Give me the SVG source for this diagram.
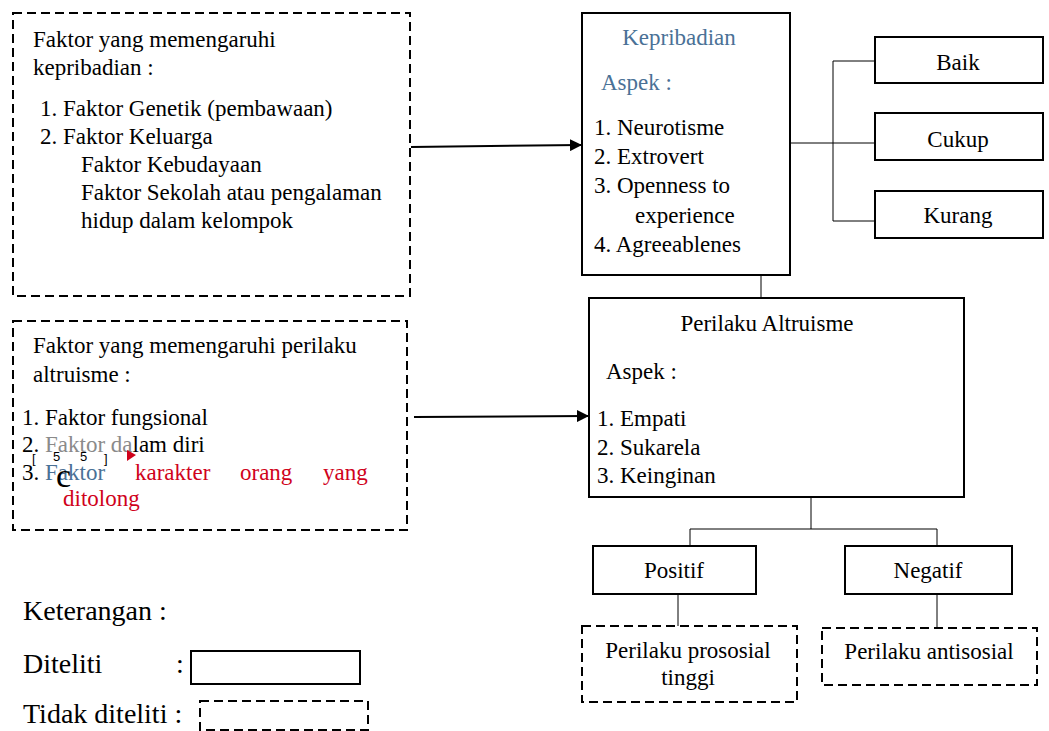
<svg xmlns="http://www.w3.org/2000/svg" width="1049" height="731" viewBox="0 0 1049 731">
<defs>
<style>
text{font-family:"Liberation Serif","Times New Roman",serif;font-size:23px;fill:#000}
.solid{fill:#fff;stroke:#000;stroke-width:2}
.dash{fill:#fff;stroke:#000;stroke-width:2;stroke-dasharray:9,5}
.ln{fill:none;stroke:#000;stroke-width:1}
.arr{fill:none;stroke:#000;stroke-width:2}
.blue{fill:#4a7196}
.red{fill:#d0021b}
.c{text-anchor:middle}
.big{font-size:28px}
.sm{font-family:"Liberation Sans",Arial,sans-serif;font-size:13px}
</style>
<marker id="ah" markerWidth="12" markerHeight="12" refX="11" refY="6" orient="auto" markerUnits="userSpaceOnUse">
<path d="M0,0 L12,6 L0,12 z" fill="#000"/>
</marker>
</defs>
<rect width="1049" height="731" fill="#fff"/>

<g id="connectors">
<line class="arr" x1="411" y1="147" x2="581" y2="145" marker-end="url(#ah)"/>
<line class="arr" x1="414" y1="417" x2="588" y2="416" marker-end="url(#ah)"/>
<line class="ln" x1="790" y1="143" x2="875" y2="143"/>
<polyline class="ln" points="875,61 833,61 833,221 875,221"/>
<line class="ln" x1="761" y1="275" x2="761" y2="298"/>
<line class="ln" x1="811" y1="498" x2="811" y2="529"/>
<polyline class="ln" points="690,546 690,529 937,529 937,546"/>
<line class="ln" x1="678" y1="595" x2="678" y2="626"/>
<line class="ln" x1="937" y1="595" x2="937" y2="628"/>
</g>

<g id="faktor-kepribadian">
<rect class="dash" x="13" y="13" width="397" height="283"/>
<text x="33" y="47">Faktor yang memengaruhi</text>
<text x="33" y="75">kepribadian :</text>
<text x="40" y="116">1. Faktor Genetik (pembawaan)</text>
<text x="40" y="144">2. Faktor Keluarga</text>
<text x="81" y="172">Faktor Kebudayaan</text>
<text x="81" y="200">Faktor Sekolah atau pengalaman</text>
<text x="81" y="228">hidup dalam kelompok</text>
</g>

<g id="faktor-altruisme">
<rect class="dash" x="13" y="321" width="394" height="209"/>
<text x="33" y="353">Faktor yang memengaruhi perilaku</text>
<text x="33" y="382">altruisme :</text>
<text x="22" y="425">1. Faktor fungsional</text>
<text x="22" y="452">2. <tspan fill="#8a8a8a">Faktor da</tspan>lam diri</text>
<text x="32" y="463" class="sm">[</text>
<text x="53" y="461" class="sm">5</text>
<text x="80" y="461" class="sm">5</text>
<text x="104" y="463" class="sm">]</text>
<path d="M127,450 L136,455 L127,461 z" fill="#d0021b"/>
<text x="22" y="480">3. <tspan class="blue">Faktor</tspan></text>
<text x="135" y="480" class="red">karakter</text>
<text x="240" y="480" class="red">orang</text>
<text x="323" y="480" class="red">yang</text>
<text x="63" y="506" class="red">ditolong</text>
<text x="56" y="487" style="font-size:34px">c</text>
</g>

<g id="kepribadian">
<rect class="solid" x="582" y="13" width="208" height="262"/>
<text x="679" y="45" class="c blue">Kepribadian</text>
<text x="601" y="90" class="blue">Aspek :</text>
<text x="594" y="135">1. Neurotisme</text>
<text x="594" y="164">2. Extrovert</text>
<text x="594" y="193">3. Openness to</text>
<text x="635" y="223">experience</text>
<text x="594" y="252">4. Agreeablenes</text>
</g>

<g id="baik">
<rect class="solid" x="875" y="37" width="168" height="46"/>
<text x="958" y="70" class="c">Baik</text>
</g>
<g id="cukup">
<rect class="solid" x="875" y="113" width="168" height="47"/>
<text x="958" y="147" class="c">Cukup</text>
</g>
<g id="kurang">
<rect class="solid" x="875" y="191" width="168" height="47"/>
<text x="958" y="223" class="c">Kurang</text>
</g>

<g id="perilaku-altruisme">
<rect class="solid" x="589" y="298" width="375" height="199"/>
<text x="767" y="331" class="c">Perilaku Altruisme</text>
<text x="606" y="379">Aspek :</text>
<text x="597" y="426">1. Empati</text>
<text x="597" y="455">2. Sukarela</text>
<text x="597" y="483">3. Keinginan</text>
</g>

<g id="positif">
<rect class="solid" x="593" y="546" width="163" height="48"/>
<text x="674" y="578" class="c">Positif</text>
</g>
<g id="negatif">
<rect class="solid" x="845" y="546" width="167" height="48"/>
<text x="928" y="578" class="c">Negatif</text>
</g>

<g id="prososial">
<rect class="dash" x="582" y="626" width="215" height="76"/>
<text x="688" y="658" class="c">Perilaku prososial</text>
<text x="688" y="685" class="c">tinggi</text>
</g>
<g id="antisosial">
<rect class="dash" x="822" y="628" width="215" height="57"/>
<text x="929" y="659" class="c">Perilaku antisosial</text>
</g>

<g id="legend">
<text x="23" y="620" class="big">Keterangan :</text>
<text x="23" y="673" class="big">Diteliti</text>
<text x="176" y="673" class="big">:</text>
<rect class="solid" x="191" y="651" width="169" height="33"/>
<text x="23" y="723" class="big">Tidak diteliti :</text>
<rect class="dash" x="200" y="701" width="168" height="29"/>
</g>
</svg>
